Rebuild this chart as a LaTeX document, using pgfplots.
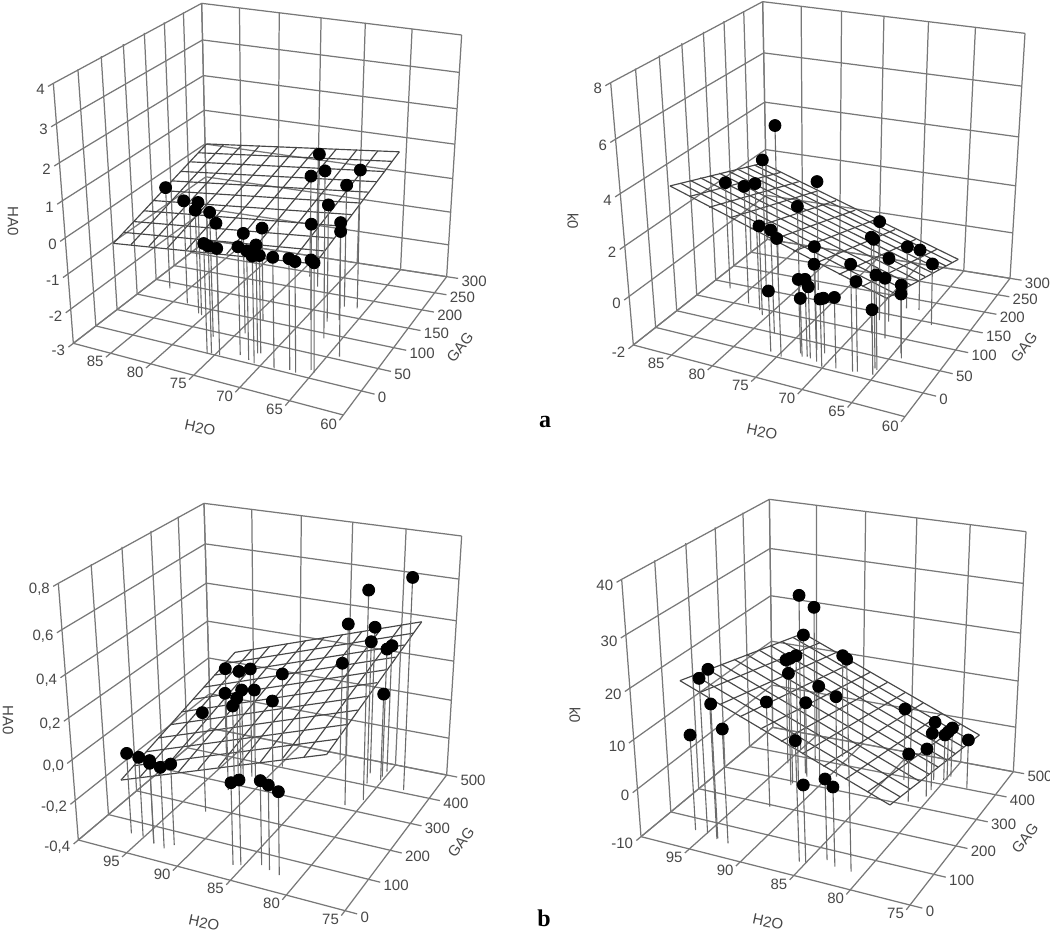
\documentclass[border=0pt]{standalone}
\usepackage{pgfplots}
\usepackage{pgfplotstable}
\pgfplotsset{compat=1.18}
\usepackage{fontspec}
\setmainfont{Liberation Sans}
\newfontfamily\serifb{Liberation Serif}
\definecolor{gl}{gray}{0.47}
\definecolor{tx}{gray}{0.28}
\pgfplotstableread{
H G Z
87.16 133.0 0.00
83.29 103.2 0.02
80.42 81.8 0.28
80.91 84.3 0.02
76.93 38.1 0.56
78.17 78.6 -0.17
75.84 -0.3 0.13
75.44 1.9 0.06
74.54 2.5 0.04
72.68 12.7 0.09
74.24 61.4 -0.10
73.83 100.9 -0.30
71.27 24.6 0.10
71.49 6.7 0.11
70.73 2.7 0.05
70.99 26.1 -0.19
68.61 2.4 0.15
67.15 6.6 0.16
66.46 4.2 0.15
65.36 16.6 0.13
64.93 12.8 0.12
69.31 124.1 -0.18
66.69 137.5 -0.13
63.93 56.5 0.57
67.66 127.9 0.41
73.54 236.8 0.05
71.73 212.5 0.94
66.62 88.2 1.75
67.31 172.6 0.58
65.98 174.4 1.05
}\ptsA
\pgfplotstableread{
H G Z
87.26 135.4 2.46
83.38 106.7 2.86
81.46 96.0 3.21
83.58 158.9 3.32
83.95 202.0 4.23
77.74 176.8 2.58
76.37 92.8 2.68
80.63 85.3 1.71
77.49 49.3 2.23
74.61 3.1 2.74
76.02 8.2 0.49
71.99 34.6 2.19
71.01 10.4 1.93
73.16 19.6 1.02
72.27 16.0 1.15
71.85 14.1 0.92
72.73 13.5 0.39
70.15 2.9 0.75
71.01 31.4 0.27
68.80 6.4 0.88
67.13 7.8 2.30
66.72 10.1 1.63
65.20 10.9 0.65
65.21 22.6 1.83
66.88 92.6 0.50
67.89 132.3 0.66
65.49 25.0 3.14
68.47 97.3 1.96
68.88 131.8 2.09
63.99 57.5 1.00
64.37 67.7 0.45
67.35 173.0 0.62
66.06 174.8 0.55
63.79 144.6 0.57
}\ptsB
\pgfplotstableread{
H G Z
96.34 60.2 0.001
95.10 59.1 -0.003
93.67 47.7 0.011
93.68 47.6 -0.002
92.44 40.8 0.001
91.92 58.0 0.002
92.21 184.7 0.104
85.87 44.0 0.002
85.28 49.6 0.015
83.72 64.6 0.012
82.80 56.2 0.013
81.75 49.2 0.004
95.19 384.5 -0.036
92.23 275.6 0.226
91.73 309.4 0.184
91.40 342.1 0.167
92.15 335.2 0.060
92.89 343.5 0.002
92.31 304.0 0.009
91.09 344.9 0.060
89.63 403.9 0.097
89.30 346.4 0.019
81.36 313.4 0.500
85.16 475.7 0.122
80.22 344.6 0.638
81.54 447.5 0.361
81.08 407.5 0.331
80.18 430.3 0.055
80.28 444.2 0.267
80.24 466.9 0.263
77.60 410.9 0.661
}\ptsC
\pgfplotstableread{
H G Z
96.21 61.5 9.70
94.94 60.3 21.36
93.70 50.0 24.00
93.69 52.7 17.28
92.45 45.2 13.30
92.27 192.8 12.11
94.78 363.5 12.83
92.46 291.9 16.81
91.97 296.4 17.36
92.46 284.5 14.03
94.97 426.5 23.99
92.69 397.8 23.21
92.29 338.7 19.83
91.86 327.3 6.30
90.76 337.1 9.78
89.33 349.9 7.59
90.60 432.1 12.51
81.08 50.8 31.07
85.57 43.0 14.29
85.02 44.7 5.83
83.62 67.5 6.53
82.59 53.7 6.19
83.40 388.0 5.63
81.45 312.4 0.37
80.37 343.2 0.42
80.95 409.9 2.77
80.44 370.9 2.43
80.12 417.3 0.02
79.85 419.7 0.74
79.77 435.2 0.86
77.68 402.9 0.66
}\ptsD
% fitted surfaces: each row is one mesh line, from (H0,G0,Z0) to (H1,G1,Z1)
\pgfplotstableread{
H0 G0 Z0 H1 G1 Z1
83.68 -51.8 0.20 83.91 179.1 1.02
81.57 -51.5 0.275 81.81 181.2 1.07
79.46 -51.2 0.35 79.70 183.2 1.11
77.35 -50.9 0.425 77.60 185.3 1.16
75.24 -50.6 0.50 75.49 187.3 1.20
73.13 -50.35 0.575 73.39 189.4 1.25
71.01 -50.1 0.65 71.28 191.5 1.30
68.90 -49.8 0.725 69.18 193.5 1.34
66.79 -49.5 0.80 67.07 195.6 1.39
64.68 -49.2 0.875 64.97 197.6 1.43
62.57 -48.9 0.95 62.86 199.7 1.48
83.68 -51.8 0.20 62.57 -48.9 0.95
83.70 -28.7 0.28 62.60 -24.0 1.00
83.73 -5.6 0.36 62.63 0.8 1.06
83.75 17.5 0.45 62.66 25.7 1.11
83.77 40.6 0.53 62.69 50.5 1.16
83.80 63.65 0.61 62.72 75.4 1.22
83.82 86.7 0.69 62.74 100.3 1.27
83.84 109.8 0.77 62.77 125.1 1.32
83.86 132.9 0.86 62.80 150.0 1.37
83.89 156.0 0.94 62.83 174.8 1.43
83.91 179.1 1.02 62.86 199.7 1.48
}\planeA
\pgfplotstableread{
H0 G0 Z0 H1 G1 Z1
83.75 -49.0 4.71 83.77 163.5 3.13
81.53 -48.9 4.48 81.57 163.6 2.88
79.32 -48.9 4.25 79.37 163.6 2.63
77.10 -48.8 4.03 77.18 163.7 2.38
74.88 -48.8 3.80 74.98 163.7 2.13
72.67 -48.7 3.57 72.78 163.8 1.88
70.45 -48.6 3.34 70.58 163.9 1.63
68.23 -48.6 3.11 68.38 163.9 1.38
66.01 -48.5 2.89 66.19 164.0 1.13
63.80 -48.5 2.66 63.99 164.0 0.88
61.58 -48.4 2.43 61.79 164.1 0.63
83.75 -49.0 4.71 61.58 -48.4 2.43
83.75 -27.75 4.55 61.60 -27.15 2.25
83.75 -6.5 4.39 61.62 -5.9 2.07
83.76 14.75 4.24 61.64 15.35 1.89
83.76 36.0 4.08 61.66 36.6 1.71
83.76 57.25 3.92 61.69 57.85 1.53
83.76 78.5 3.76 61.71 79.1 1.35
83.76 99.75 3.60 61.73 100.35 1.17
83.77 121.0 3.45 61.75 121.6 0.99
83.77 142.25 3.29 61.77 142.85 0.81
83.77 163.5 3.13 61.79 164.1 0.63
}\planeB
\pgfplotstableread{
H0 G0 Z0 H1 G1 Z1
95.05 -2.4 -0.038 94.79 413.8 0.154
93.20 -2.05 -0.004 92.99 414.7 0.184
91.35 -1.7 0.029 91.20 415.5 0.213
89.51 -1.35 0.063 89.40 416.4 0.243
87.66 -1.0 0.097 87.60 417.2 0.272
85.81 -0.65 0.131 85.81 418.1 0.302
83.96 -0.3 0.164 84.01 419.0 0.332
82.11 0.05 0.198 82.21 419.8 0.361
80.27 0.4 0.232 80.41 420.7 0.391
78.42 0.75 0.265 78.62 421.5 0.420
76.57 1.1 0.299 76.82 422.4 0.450
95.05 -2.4 -0.038 76.57 1.1 0.299
95.02 39.2 -0.019 76.60 43.2 0.314
95.00 80.8 0.000 76.62 85.4 0.329
94.97 122.5 0.020 76.65 127.5 0.344
94.95 164.1 0.039 76.67 169.6 0.359
94.92 205.7 0.058 76.70 211.8 0.375
94.89 247.3 0.077 76.72 253.9 0.390
94.87 288.9 0.096 76.75 296.0 0.405
94.84 330.6 0.116 76.77 338.1 0.420
94.82 372.2 0.135 76.80 380.3 0.435
94.79 413.8 0.154 76.82 422.4 0.450
}\planeC
\pgfplotstableread{
H0 G0 Z0 H1 G1 Z1
94.98 2.5 23.36 95.37 458.1 14.74
93.14 2.5 21.89 93.49 451.8 13.53
91.30 2.5 20.42 91.61 445.4 12.32
89.46 2.5 18.95 89.72 439.1 11.10
87.62 2.5 17.48 87.84 432.7 9.89
85.78 2.55 16.01 85.96 426.4 8.68
83.94 2.6 14.54 84.08 420.0 7.47
82.10 2.6 13.07 82.20 413.7 6.26
80.26 2.6 11.60 80.31 407.3 5.04
78.42 2.6 10.13 78.43 401.0 3.83
76.58 2.6 8.66 76.55 394.6 2.62
94.98 2.5 23.36 76.58 2.6 8.66
95.02 48.1 22.50 76.58 41.8 8.06
95.06 93.6 21.64 76.57 81.0 7.45
95.10 139.2 20.77 76.57 120.2 6.85
95.14 184.7 19.91 76.57 159.4 6.24
95.18 230.3 19.05 76.57 198.6 5.64
95.21 275.9 18.19 76.56 237.8 5.03
95.25 321.4 17.33 76.56 277.0 4.43
95.29 367.0 16.46 76.56 316.2 3.83
95.33 412.5 15.60 76.55 355.4 3.22
95.37 458.1 14.74 76.55 394.6 2.62
}\planeD
\newcommand\calcP{%
 \pgfmathsetmacro\pp{(\Ax-\Ex)/100}\pgfmathsetmacro\qq{(\Bx-\Ex)/100}\pgfmathsetmacro\rr{(\Ox-\Ex)/100}%
 \pgfmathsetmacro\ss{(\Ay-\Ey)/100}\pgfmathsetmacro\tt{(\By-\Ey)/100}\pgfmathsetmacro\mm{(\Oy-\Ey)/100}%
 \pgfmathsetmacro\dd{\pp*\tt-\qq*\ss}%
 \pgfmathsetmacro\al{(\rr*\tt-\qq*\mm)/\dd}\pgfmathsetmacro\be{(\pp*\mm-\rr*\ss)/\dd}%
 \pgfmathsetmacro\Dua{\al-1}\pgfmathsetmacro\Dva{\be-1}%
 \pgfmathsetmacro\Nxu{\al*\Ax-\Ox}\pgfmathsetmacro\Nxv{\be*\Bx-\Ox}%
 \pgfmathsetmacro\Nyu{\al*\Ay-\Oy}\pgfmathsetmacro\Nyv{\be*\By-\Oy}%
 \pgfmathsetmacro\Vxa{\Cx-\Ox}\pgfmathsetmacro\Vya{\Cy-\Oy}%
 \pgfmathsetmacro\Vxb{(\Tx-\Ex)-(\Gx-\Bx)}\pgfmathsetmacro\Vyb{(\Ty-\Ey)-(\Gy-\By)}%
 \pgfmathsetmacro\Vxc{(\Gx-\Bx)-(\Cx-\Ox)}\pgfmathsetmacro\Vyc{(\Gy-\By)-(\Cy-\Oy)}%
}
\pgfmathdeclarefunction{uu}{1}{\pgfmathparse{((#1)-\Hz)/(\Ho-\Hz)}}
\pgfmathdeclarefunction{vv}{1}{\pgfmathparse{((#1)-\Gz)/(\Go-\Gz)}}
\pgfmathdeclarefunction{wp}{1}{\pgfmathparse{0.91*((#1)-\Zz)/(\Zo-\Zz)/(1-0.09*((#1)-\Zz)/(\Zo-\Zz))}}
\pgfmathdeclarefunction{PX}{3}{\pgfmathparse{\offx+((\Ox+uu(#1)*\Nxu+vv(#2)*\Nxv)/(1+\Dua*uu(#1)+\Dva*vv(#2))+wp(#3)*(\Vxa+uu(#1)*\Vxb+vv(#2)*\Vxc))/3}}
\pgfmathdeclarefunction{PY}{3}{\pgfmathparse{\offy+((\Oy+uu(#1)*\Nyu+vv(#2)*\Nyv)/(1+\Dua*uu(#1)+\Dva*vv(#2))+wp(#3)*(\Vya+uu(#1)*\Vyb+vv(#2)*\Vyc))/3}}
\newcommand\seg[6]{\draw[gl,line width=0.62pt] (axis cs:{PX(#1,#2,#3)},{PY(#1,#2,#3)}) -- (axis cs:{PX(#4,#5,#6)},{PY(#4,#5,#6)});}
\newcommand\lab[5]{\node[text=tx,font=\fontsize{7.5}{9}\selectfont,inner sep=0pt,#1] at (axis cs:#2,#3) {#4};}
\newcommand\frameP[3]{%
 \pgfplotsinvokeforeach{#1}{\seg{##1}{\Go}{\Zz}{##1}{\Go}{\Zo}\seg{##1}{\Gz}{\Zz}{##1}{\Go}{\Zz}}
 \pgfplotsinvokeforeach{#2}{\seg{\Hz}{##1}{\Zz}{\Hz}{##1}{\Zo}\seg{\Hz}{##1}{\Zz}{\Ho}{##1}{\Zz}}
 \pgfplotsinvokeforeach{#3}{\seg{\Hz}{\Gz}{##1}{\Hz}{\Go}{##1}\seg{\Hz}{\Go}{##1}{\Ho}{\Go}{##1}}
}
\newcommand\Htick[2]{\pgfmathsetmacro\tg{\Gz-0.075*(\Go-\Gz)}\seg{#1}{\Gz}{\Zz}{#1}{\tg}{\Zz}
 \node[text=tx,font=\fontsize{7.5}{9}\selectfont,inner sep=0pt,anchor=east] at (axis cs:{PX(#1,\tg,\Zz)-2},{PY(#1,\tg,\Zz)+4}) {#2};}
\newcommand\Gtick[2]{\pgfmathsetmacro\th{\Ho+0.04*(\Ho-\Hz)}\seg{\Ho}{#1}{\Zz}{\th}{#1}{\Zz}
 \node[text=tx,font=\fontsize{7.5}{9}\selectfont,inner sep=0pt,anchor=west] at (axis cs:{PX(\th,#1,\Zz)+3},{PY(\th,#1,\Zz)+3}) {#2};}
\newcommand\Ztick[2]{\pgfmathsetmacro\tg{\Gz-0.03*(\Go-\Gz)}\seg{\Hz}{\Gz}{#1}{\Hz}{\tg}{#1}
 \node[text=tx,font=\fontsize{7.5}{9}\selectfont,inner sep=0pt,anchor=east] at (axis cs:{PX(\Hz,\tg,#1)-3},{PY(\Hz,\tg,#1)+3}) {#2};}
\newcommand\plotplane[1]{%
 \addplot[draw=black!72,line width=0.58pt,mark=none,quiver={
   u={PX(\thisrow{H1},\thisrow{G1},\thisrow{Z1})-PX(\thisrow{H0},\thisrow{G0},\thisrow{Z0})},
   v={PY(\thisrow{H1},\thisrow{G1},\thisrow{Z1})-PY(\thisrow{H0},\thisrow{G0},\thisrow{Z0})}}]
  table[x expr={PX(\thisrow{H0},\thisrow{G0},\thisrow{Z0})},y expr={PY(\thisrow{H0},\thisrow{G0},\thisrow{Z0})}] {#1};}
\newcommand\plotpts[1]{%
 \addplot[draw=black!58,line width=0.55pt,mark=none,quiver={
   u={PX(\thisrow{H},\thisrow{G},\Zz)-PX(\thisrow{H},\thisrow{G},\thisrow{Z})},
   v={PY(\thisrow{H},\thisrow{G},\Zz)-PY(\thisrow{H},\thisrow{G},\thisrow{Z})}}]
  table[x expr={PX(\thisrow{H},\thisrow{G},\thisrow{Z})},y expr={PY(\thisrow{H},\thisrow{G},\thisrow{Z})}] {#1};
 \addplot[only marks,mark=*,mark size=3pt,black]
  table[x expr={PX(\thisrow{H},\thisrow{G},\thisrow{Z})},y expr={PY(\thisrow{H},\thisrow{G},\thisrow{Z})}] {#1};}
\pgfplotsset{pan/.style={hide axis,scale only axis,width=525pt,height=466pt,xmin=0,xmax=1050,ymin=0,ymax=932,y dir=reverse,clip=false,anchor=south west,at={(0,0)}}}
\begin{document}
\begin{tikzpicture}[x=1pt,y=1pt]
\useasboundingbox (0,0) rectangle (525,466);
% panel 1
\def\offx{0}\def\offy{0}\def\Ox{220}\def\Oy{1030}\def\Ax{1030}\def\Ay{1245}\def\Bx{622}\def\By{720}\def\Ex{1340}\def\Ey{830}\def\Cx{160}\def\Cy{250}\def\Gx{605}\def\Gy{10}\def\Tx{1385}\def\Ty{105}\calcP
\def\Hz{90}\def\Ho{60}\def\Gz{-50}\def\Go{300}\def\Zz{-3}\def\Zo{4}
\begin{axis}[pan]
\frameP{90,85,80,75,70,65,60}{-50,0,50,100,150,200,250,300}{-3,-2,-1,0,1,2,3,4}
\pgfplotsinvokeforeach{85,80,75,70,65,60}{\Htick{#1}{#1}}
\pgfplotsinvokeforeach{0,50,100,150,200,250,300}{\Gtick{#1}{#1}}
\pgfplotsinvokeforeach{-3,-2,-1,0,1,2,3,4}{\Ztick{#1}{#1}}
\lab{rotate=-90}{13}{221}{HA0}{}
\lab{rotate=-12}{200}{428}{H2O}{}
\lab{rotate=52}{460}{347}{GAG}{}
\plotplane{\planeA}
\plotpts{\ptsA}
\end{axis}
% panel 2
\def\offx{540}\def\offy{0}\def\Ox{280}\def\Oy{1035}\def\Ax{1095}\def\Ay{1250}\def\Bx{682}\def\By{718}\def\Ex{1410}\def\Ey{835}\def\Cx{212}\def\Cy{248}\def\Gx{668}\def\Gy{5}\def\Tx{1455}\def\Ty{100}\calcP
\def\Hz{90}\def\Ho{60}\def\Gz{-50}\def\Go{300}\def\Zz{-2}\def\Zo{8}
\begin{axis}[pan]
\frameP{90,85,80,75,70,65,60}{-50,0,50,100,150,200,250,300}{-2,0,2,4,6,8}
\pgfplotsinvokeforeach{85,80,75,70,65,60}{\Htick{#1}{#1}}
\pgfplotsinvokeforeach{0,50,100,150,200,250,300}{\Gtick{#1}{#1}}
\pgfplotsinvokeforeach{-2,0,2,4,6,8}{\Ztick{#1}{#1}}
\lab{rotate=-90}{573}{221}{k0}{}
\lab{rotate=-12}{762}{432}{H2O}{}
\lab{rotate=52}{1024}{347}{GAG}{}
\node[font=\serifb\bfseries\fontsize{12}{14}\selectfont,text=black] at (axis cs:545,422) {a};
\plotplane{\planeB}
\plotpts{\ptsB}
\end{axis}
% panel 3
\def\offx{0}\def\offy{490}\def\Ox{235}\def\Oy{1050}\def\Ax{1035}\def\Ay{1262}\def\Bx{632}\def\By{715}\def\Ex{1340}\def\Ey{855}\def\Cx{175}\def\Cy{280}\def\Gx{612}\def\Gy{40}\def\Tx{1385}\def\Ty{138}\calcP
\def\Hz{100}\def\Ho{75}\def\Gz{0}\def\Go{500}\def\Zz{-0.4}\def\Zo{0.8}
\begin{axis}[pan]
\frameP{100,95,90,85,80,75}{0,100,200,300,400,500}{-0.4,-0.2,0,0.2,0.4,0.6,0.8}
\pgfplotsinvokeforeach{95,90,85,80,75}{\Htick{#1}{#1}}
\pgfplotsinvokeforeach{0,100,200,300,400,500}{\Gtick{#1}{#1}}
\Ztick{-0.4}{-0,4}\Ztick{-0.2}{-0,2}\Ztick{0}{0,0}\Ztick{0.2}{0,2}\Ztick{0.4}{0,4}\Ztick{0.6}{0,6}\Ztick{0.8}{0,8}
\lab{rotate=-90}{8}{720}{HA0}{}
\lab{rotate=-12}{204}{923}{H2O}{}
\lab{rotate=52}{461}{842}{GAG}{}
\plotplane{\planeC}
\plotpts{\ptsC}
\end{axis}
% panel 4
\def\offx{540}\def\offy{490}\def\Ox{303}\def\Oy{1040}\def\Ax{1110}\def\Ay{1245}\def\Bx{698}\def\By{712}\def\Ex{1420}\def\Ey{845}\def\Cx{245}\def\Cy{268}\def\Gx{688}\def\Gy{28}\def\Tx{1458}\def\Ty{125}\calcP
\def\Hz{100}\def\Ho{75}\def\Gz{0}\def\Go{500}\def\Zz{-10}\def\Zo{40}
\begin{axis}[pan]
\frameP{100,95,90,85,80,75}{0,100,200,300,400,500}{-10,0,10,20,30,40}
\pgfplotsinvokeforeach{95,90,85,80,75}{\Htick{#1}{#1}}
\pgfplotsinvokeforeach{0,100,200,300,400,500}{\Gtick{#1}{#1}}
\pgfplotsinvokeforeach{-10,0,10,20,30,40}{\Ztick{#1}{#1}}
\lab{rotate=-90}{575}{715}{k0}{}
\lab{rotate=-12}{768}{922}{H2O}{}
\lab{rotate=52}{1025}{838}{GAG}{}
\node[font=\serifb\bfseries\fontsize{12}{14}\selectfont,text=black] at (axis cs:544,918) {b};
\plotplane{\planeD}
\plotpts{\ptsD}
\end{axis}
\end{tikzpicture}
\end{document}
